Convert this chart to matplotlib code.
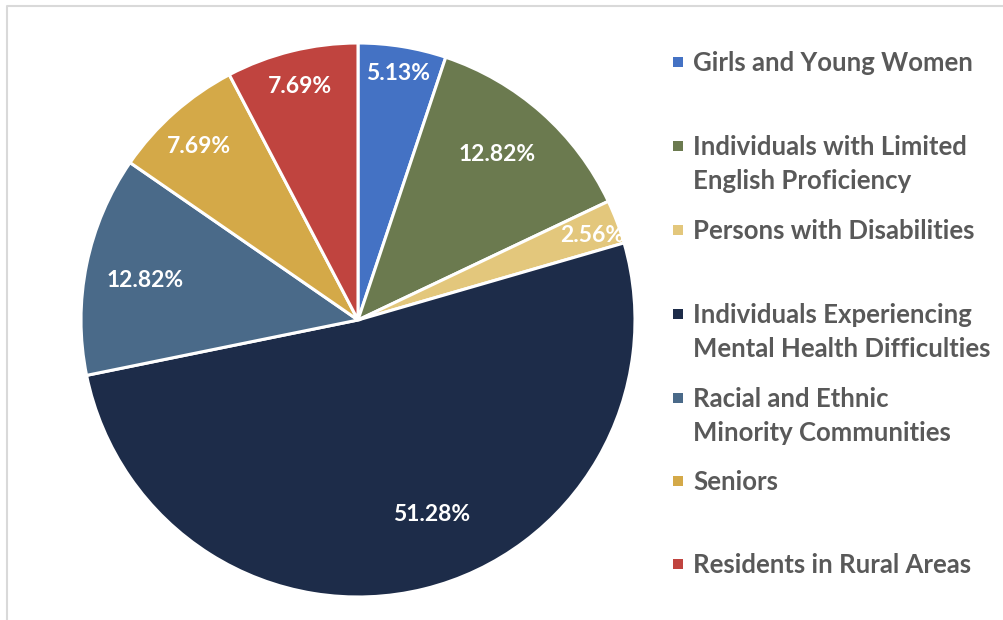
import matplotlib.pyplot as plt
from matplotlib.patches import Rectangle
import numpy as np

groups = ['Girls and Young Women',
          'Individuals with Limited\nEnglish Proficiency',
          'Persons with Disabilities',
          'Individuals Experiencing\nMental Health Difficulties',
          'Racial and Ethnic\nMinority Communities',
          'Seniors',
          'Residents in Rural Areas']
shares = [5.13, 12.82, 2.56, 51.28, 12.82, 7.69, 7.69]
colors = ['#4472C4', '#6B7A4F', '#E3C77C', '#1D2C49', '#4A6A89', '#D4A948', '#C0443F']

# label placement (fraction of radius, angle nudge in degrees)
label_dist = [0.90, 0.78, 0.90, 0.75, 0.78, 0.85, 0.87]
label_nudge = [0, 1.5, -1, 7, 1, 1, 0]
# legend rows, centre of first line in pixels from the top
legend_rows = [62, 146, 230, 314, 398, 481, 564]

W, H = 1004, 620
fig = plt.figure(figsize=(W / 100, H / 100), dpi=100)
plt.rcParams['font.family'] = ['Lato', 'DejaVu Sans']

cx, cy, r = 358, 320, 277
ax = fig.add_axes([(cx - r) / W, (H - cy - r) / H, 2 * r / W, 2 * r / H])
wedges, _ = ax.pie(shares, colors=colors, startangle=90, counterclock=False,
                   radius=1, wedgeprops=dict(edgecolor='white', linewidth=2.2))
ax.set_xlim(-1, 1)
ax.set_ylim(-1, 1)
ax.set_axis_off()

for w, v, d, n in zip(wedges, shares, label_dist, label_nudge):
    ang = np.deg2rad((w.theta1 + w.theta2) / 2 + n)
    ax.text(d * np.cos(ang), d * np.sin(ang), '%.2f%%' % v, ha='center', va='center',
            color='white', fontsize=16.5, fontweight='bold')

# legend
for lab, col, y in zip(groups, colors, legend_rows):
    fig.patches.append(Rectangle((673 / W, 1 - (y + 5) / H), 10 / W, 10 / H,
                                 transform=fig.transFigure, facecolor=col, edgecolor='none'))
    fig.text(693 / W, 1 - (y - 11) / H, lab, ha='left', va='top', color='#595959',
             fontsize=18.5, fontweight='bold', linespacing=1.5)

# chart frame (only top and left edges visible)
fig.add_artist(plt.Line2D([7 / W, 7 / W, 1], [0, 1 - 6 / H, 1 - 6 / H],
                          transform=fig.transFigure, color='#D9D9D9', linewidth=1.5))

fig.savefig('out.png', dpi=100, facecolor='white')
